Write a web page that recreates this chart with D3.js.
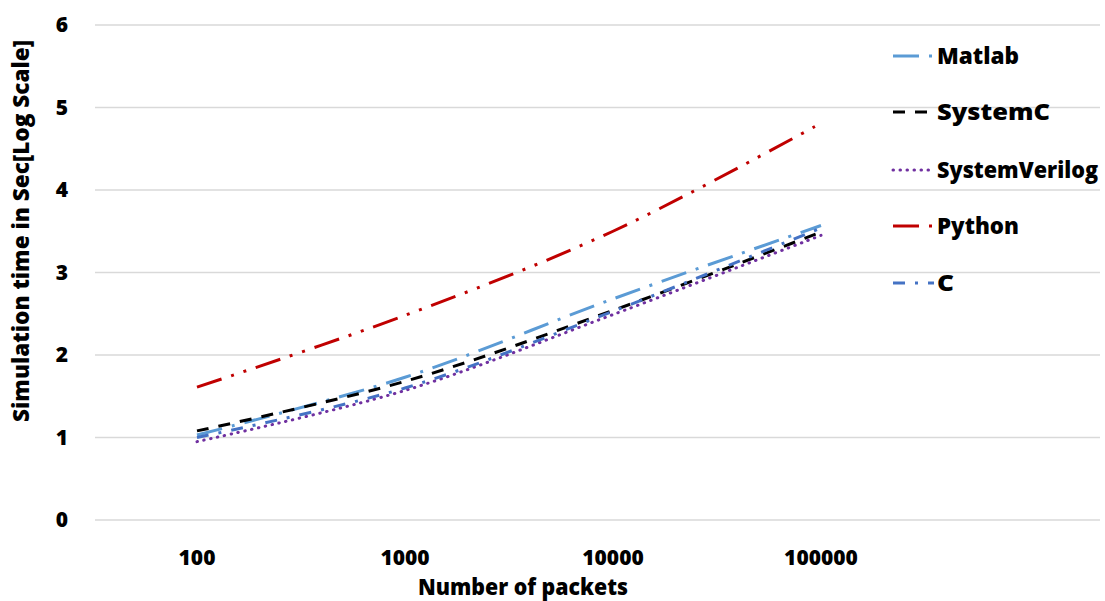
<!DOCTYPE html>
<html>
<head>
<meta charset="utf-8">
<script src="https://cdn.jsdelivr.net/npm/d3@7"></script>
<style>
  html, body { margin: 0; padding: 0; background: #fff; }
  text { font-family: "Open Sans", "Liberation Sans", sans-serif; font-weight: 800; fill: #000; }
</style>
</head>
<body>
<svg id="chart" width="1105" height="601"></svg>
<script>
const categories = ["100", "1000", "10000", "100000"];
const yTicks = [0, 1, 2, 3, 4, 5, 6];
const seriesNames = ["Matlab", "SystemC", "SystemVerilog", "Python", "C"];
const matlab = [1.03, 1.73, 2.68, 3.57];
const systemC = [1.08, 1.68, 2.54, 3.49];
const systemVerilog = [0.95, 1.57, 2.49, 3.45];
const python = [1.61, 2.48, 3.50, 4.81];
const cLang = [1.00, 1.60, 2.53, 3.54];

const seriesData = [matlab, systemC, systemVerilog, python, cLang];
const styles = [
  { color: "#5B9BD5", dash: "26 10 3 10", cap: "butt" },
  { color: "#000000", dash: "12 10", cap: "butt" },
  { color: "#7030A0", dash: "0.5 6.5", cap: "round" },
  { color: "#C00000", dash: "26 10 3 10 3 10", cap: "butt" },
  { color: "#4472C4", dash: "12 10 3 10", cap: "butt" }
];

const svg = d3.select("#chart");
const x = d3.scalePoint().domain(categories).range([93, 925]).padding(0.5);
const y = d3.scaleLinear().domain([0, 6]).range([520, 25]);

// gridlines
svg.append("g").selectAll("line").data(yTicks).join("line")
  .attr("x1", 95).attr("x2", 1100)
  .attr("y1", d => y(d)).attr("y2", d => y(d))
  .attr("stroke", "#D9D9D9").attr("stroke-width", 1.3);

// y tick labels
svg.append("g").selectAll("text").data(yTicks).join("text")
  .attr("x", 62).attr("y", d => y(d)).attr("dy", "0.35em")
  .attr("text-anchor", "middle").attr("font-size", 21)
  .text(d => d);

// x tick labels
svg.append("g").selectAll("text").data(categories).join("text")
  .attr("x", d => x(d)).attr("y", 565)
  .attr("text-anchor", "middle").attr("font-size", 21)
  .text(d => d);

// axis titles
svg.append("text")
  .attr("x", 523).attr("y", 595)
  .attr("text-anchor", "middle").attr("font-size", 22)
  .attr("textLength", 210).attr("lengthAdjust", "spacingAndGlyphs")
  .text("Number of packets");

svg.append("text")
  .attr("transform", "translate(29,231) rotate(-90)")
  .attr("text-anchor", "middle").attr("font-size", 22)
  .attr("textLength", 382).attr("lengthAdjust", "spacingAndGlyphs")
  .text("Simulation time in Sec[Log Scale]");

// lines
const line = d3.line()
  .x((d, i) => x(categories[i]))
  .y(d => y(d))
  .curve(d3.curveCatmullRom.alpha(0.5));

svg.append("g").selectAll("path").data(seriesData).join("path")
  .attr("d", d => line(d))
  .attr("fill", "none")
  .attr("stroke", (d, i) => styles[i].color)
  .attr("stroke-width", 3)
  .attr("stroke-dasharray", (d, i) => styles[i].dash)
  .attr("stroke-linecap", (d, i) => styles[i].cap);

// legend
const legendY = [56, 112, 170, 226, 283];
const legendW = [82, 113, 161, 82, 17];
const lg = svg.append("g");
seriesNames.forEach((name, i) => {
  lg.append("line")
    .attr("x1", 893).attr("x2", 934)
    .attr("y1", legendY[i]).attr("y2", legendY[i])
    .attr("stroke", styles[i].color).attr("stroke-width", 3)
    .attr("stroke-dasharray", styles[i].dash)
    .attr("stroke-linecap", styles[i].cap);
  lg.append("text")
    .attr("x", 937).attr("y", legendY[i]).attr("dy", "0.35em")
    .attr("font-size", 22)
    .attr("textLength", legendW[i]).attr("lengthAdjust", "spacingAndGlyphs")
    .text(name);
});
</script>
</body>
</html>
